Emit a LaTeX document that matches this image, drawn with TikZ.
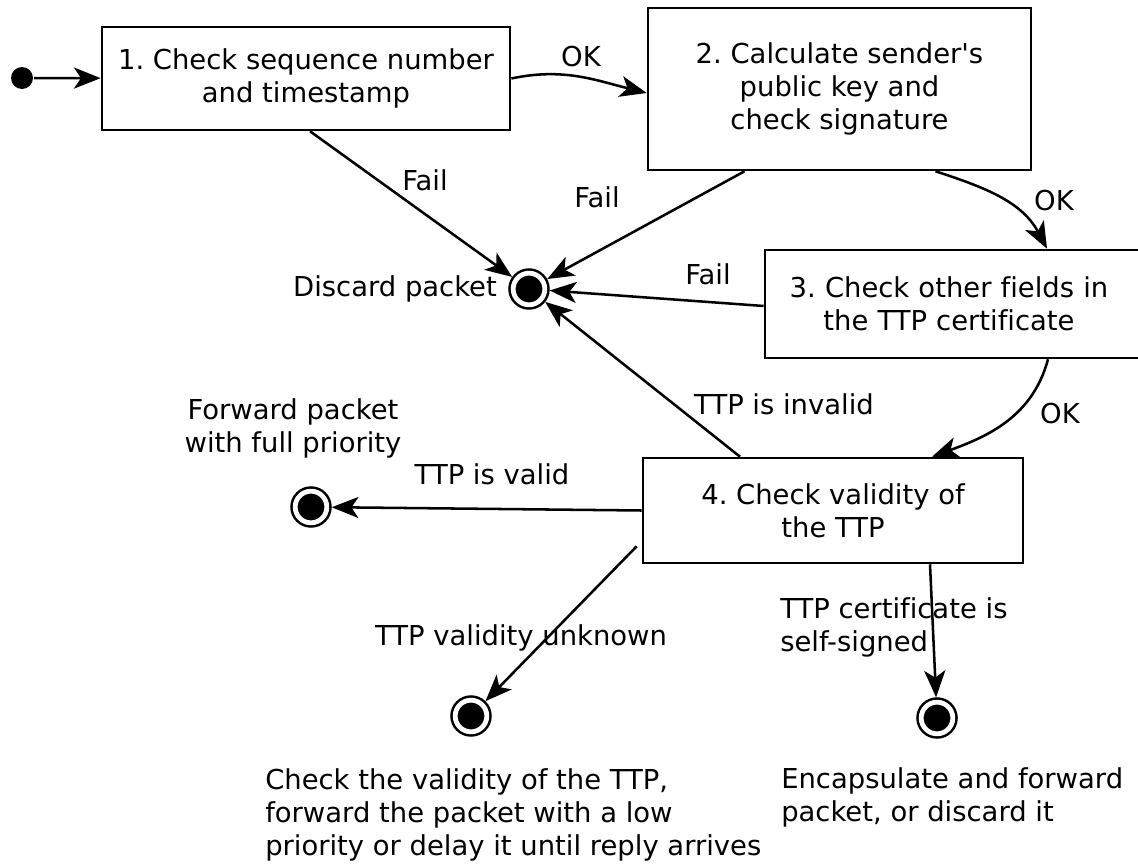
\documentclass[tikz,border=0pt]{standalone}
\usepackage{fontspec}
\setmainfont{DejaVu Sans}[Ligatures={TeXOff,CommonOff}]
\usepackage{tikz}
\usetikzlibrary{arrows.meta,calc}

\begin{document}
\frenchspacing
\begin{tikzpicture}[x=0.025cm,y=0.025cm,
    font=\fontsize{19.5}{23.5}\selectfont,
    line width=1.8pt,
    stepbox/.style={draw,rectangle,align=center,inner sep=0pt},
    initdot/.style={circle,fill=black,minimum size=15.6pt,inner sep=0pt},
    finaldot/.style={circle,draw,fill=black,double=white,double distance=3.4pt,
                     minimum size=22.5pt,inner sep=0pt,outer sep=3.5pt},
    flow/.style={-{Stealth[length=19pt,width=15pt,inset=5pt]}},
    lbl/.style={inner sep=0pt}]
  \useasboundingbox (0,0) rectangle (1138,-865);

  % states
  \node[initdot] (start) at (22,-78) {};
  \node[stepbox,minimum width=10.2cm,minimum height=2.575cm] (check1) at (306,-78.5)
    {1. Check sequence number\\and timestamp};
  \node[stepbox,minimum width=9.575cm,minimum height=4.05cm] (check2) at (839.5,-89)
    {2. Calculate sender's\\public key and\\check signature};
  \node[stepbox,minimum width=9.4cm,minimum height=2.7cm,text width=9.1cm] (check3) at (953,-304)
    {\hspace*{-0.2cm}3. Check other fields in\\\hspace*{-0.2cm}the TTP certificate};
  \node[stepbox,minimum width=9.5cm,minimum height=2.625cm] (check4) at (833,-510.5)
    {4. Check validity of\\the TTP};

  % end states
  \node[finaldot] (discard) at (529,-289) {};
  \node[finaldot] (forward) at (311,-507) {};
  \node[finaldot] (unknown) at (471,-716) {};
  \node[finaldot] (selfsig) at (937,-718) {};

  % transitions
  \draw[flow] (start) -- (check1);
  \draw[flow] (check1.east) to[out=12,in=166] (check2.west |- 0,-93);
  \draw[flow] (check1.south) ++(4,0) -- (discard);
  \draw[flow] ($(check2.south)+(-95,0)$) -- (discard);
  \draw[flow] ($(check2.south)+(96,0)$) to[out=-18,in=118] (check3.north -| 1047,0);
  \draw[flow] (check3.west |- 0,-306) -- (discard);
  \draw[flow] ($(check4.north)+(-93,0)$) -- (discard);
  \draw[flow] ($(check3.south)+(95,0)$) to[out=-105,in=20] (check4.north -| 932,0);
  \draw[flow] (check4.west) -- (forward);
  \draw[flow] ($(check4.south west)+(-5,18)$) -- (unknown);
  \draw[flow] ($(check4.south)+(97,0)$) -- (selfsig);

  % labels
  \node[lbl] (lok1) at (581,-57) {OK};
  \node[lbl] (lfail1) at (425,-180) {Fail};
  \node[lbl] (lfail2) at (597,-197) {Fail};
  \node[lbl] (lok2) at (1054,-201) {OK};
  \node[lbl] (lfail3) at (708,-274) {Fail};
  \node[lbl] (ldiscard) at (395,-289) {Discard packet};
  \node[lbl] (linvalid) at (784,-404) {TTP is invalid};
  \node[lbl] (lok3) at (1060,-414) {OK};
  \node[lbl,align=center] (lforward) at (293,-428) {Forward packet\\with full priority};
  \node[lbl] (lvalid) at (492,-474) {TTP is valid};
  \node[lbl] (lunknown) at (521,-638) {TTP validity unknown};
  \node[lbl,align=left,anchor=west] (lselfsig) at (779,-627) {TTP certificate is\\self-signed};
  \node[lbl,align=left,anchor=west] (lunknownact) at (264,-815)
    {Check the validity of the TTP,\\forward the packet with a low\\priority or delay it until reply arrives};
  \node[lbl,align=left,anchor=west] (lselfsigact) at (780,-797)
    {Encapsulate and forward\\packet, or discard it};
\end{tikzpicture}
\end{document}
